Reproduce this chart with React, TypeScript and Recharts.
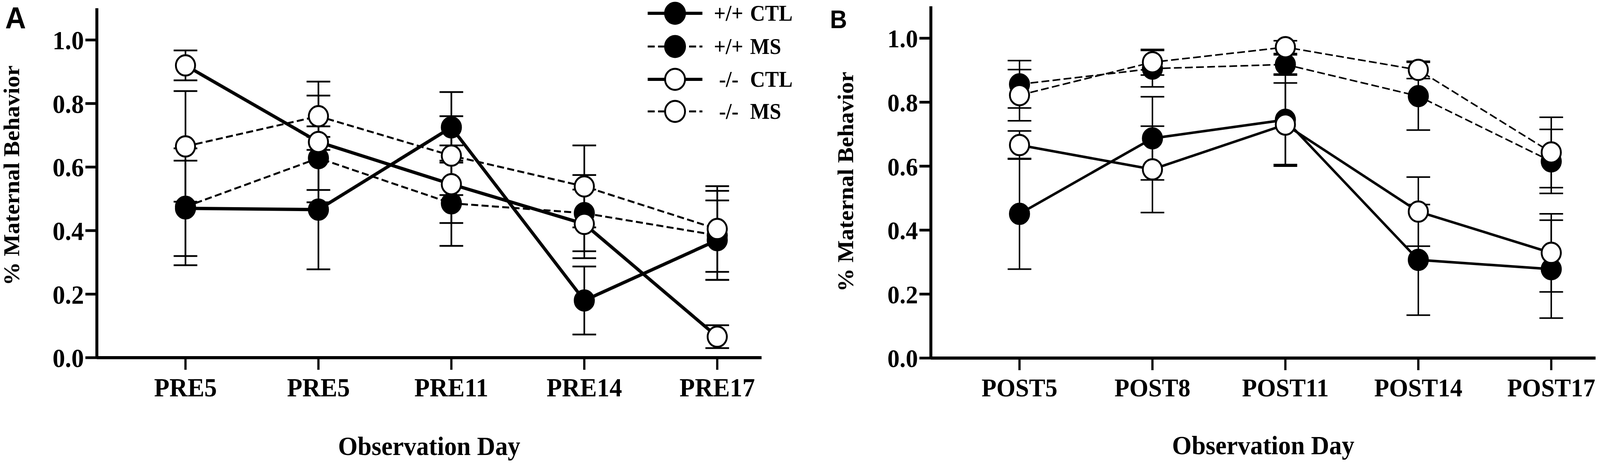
import React from 'react';
import { LineChart, Line, XAxis, YAxis, ErrorBar, Label } from 'recharts';

// x categories for the two panels
const daysA = ['PRE5', 'PRE5', 'PRE11', 'PRE14', 'PRE17'];
const daysB = ['POST5', 'POST8', 'POST11', 'POST14', 'POST17'];
const yTicks = [0, 0.2, 0.4, 0.6, 0.8, 1.0];
const xTicks = [1, 2, 3, 4, 5];

// panel A (pre)
const wtCtlA = [0.47, 0.466, 0.725, 0.18, 0.37];
const wtCtlAErr = [0.15, 0.188, 0.111, 0.107, 0.125];
const wtMsA = [0.475, 0.628, 0.486, 0.455, 0.385];
const wtMsAErr = [0.184, 0.1, 0.134, 0.12, 0.14];
const koCtlA = [0.92, 0.679, 0.546, 0.421, 0.066];
const koCtlAErr = [0.047, 0.19, 0.122, 0.108, 0.036];
const koMsA = [0.665, 0.76, 0.636, 0.539, 0.405];
const koMsAErr = [0.174, 0.065, 0.124, 0.129, 0.135];

// panel B (post)
const wtCtlB = [0.451, 0.687, 0.745, 0.307, 0.278];
const wtCtlBErr = [0.173, 0.13, 0.14, 0.173, 0.153];
const wtMsB = [0.856, 0.905, 0.918, 0.819, 0.615];
const wtMsBErr = [0.074, 0.057, 0.03, 0.106, 0.1];
const koCtlB = [0.666, 0.59, 0.73, 0.458, 0.329];
const koCtlBErr = [0.044, 0.135, 0.13, 0.108, 0.122];
const koMsB = [0.822, 0.925, 0.972, 0.901, 0.643];
const koMsBErr = [0.08, 0.04, 0.02, 0.027, 0.11];

const series = [
  { key: 'wtCtl', geno: '+/+', cond: 'CTL', filled: true, dashed: false },
  { key: 'wtMs', geno: '+/+', cond: 'MS', filled: true, dashed: true },
  { key: 'koCtl', geno: '-/-', cond: 'CTL', filled: false, dashed: false },
  { key: 'koMs', geno: '-/-', cond: 'MS', filled: false, dashed: true },
];

const serif = 'Liberation Serif, Times New Roman, serif';

function buildRows(vals: number[][], errs: number[][]) {
  return xTicks.map((x, i) => {
    const row: any = { x };
    series.forEach((s, j) => {
      row[s.key] = vals[j][i];
      row[s.key + 'Err'] = errs[j][i];
    });
    return row;
  });
}

const rowsA = buildRows([wtCtlA, wtMsA, koCtlA, koMsA], [wtCtlAErr, wtMsAErr, koCtlAErr, koMsAErr]);
const rowsB = buildRows([wtCtlB, wtMsB, koCtlB, koMsB], [wtCtlBErr, wtMsBErr, koCtlBErr, koMsBErr]);

type PanelProps = {
  left: number;
  width: number;
  top: number;
  axisHeight: number;
  rows: any[];
  days: string[];
  tickFont: number;
  yLabelY: number;
  xLabelBase: number;
  solidW: number;
  dashW: number;
  dash: string;
  errW: number;
};

function Panel(p: PanelProps) {
  const tick = { fill: '#000', fontSize: p.tickFont, fontWeight: 'bold', fontFamily: serif };
  return (
    <div style={{ position: 'absolute', left: p.left, top: 0 }}>
      <LineChart
        width={p.width}
        height={1187}
        data={p.rows}
        margin={{ top: p.top, right: p.width - 262 - 1798, bottom: 0, left: 0 }}
      >
        <XAxis
          dataKey="x"
          type="number"
          domain={[1 / 3, 16 / 3]}
          allowDataOverflow
          ticks={xTicks}
          interval={0}
          tickFormatter={(v: number) => p.days[v - 1]}
          height={p.axisHeight}
          tickSize={31}
          tickMargin={20}
          tick={tick}
          axisLine={{ stroke: '#000', strokeWidth: 8 }}
          tickLine={{ stroke: '#000', strokeWidth: 6 }}
        >
          <Label
            content={(lp: any) => {
              const vb = lp.viewBox;
              return (
                <text
                  x={vb.x + vb.width / 2}
                  y={p.xLabelBase}
                  textAnchor="middle"
                  fontFamily={serif}
                  fontWeight="bold"
                  fontSize={68}
                  fill="#000"
                >
                  Observation Day
                </text>
              );
            }}
          />
        </XAxis>
        <YAxis
          width={262}
          domain={[0, 1.1]}
          allowDataOverflow
          ticks={yTicks}
          interval={0}
          tickFormatter={(v: number) => v.toFixed(1)}
          tickSize={31}
          tickMargin={4}
          tick={tick}
          axisLine={{ stroke: '#000', strokeWidth: 8 }}
          tickLine={{ stroke: '#000', strokeWidth: 7 }}
        >
          <Label
            content={(lp: any) => {
              const vb = lp.viewBox;
              const x = vb.x + 32;
              return (
                <text
                  x={x}
                  y={p.yLabelY}
                  transform={`rotate(-90 ${x} ${p.yLabelY})`}
                  textAnchor="middle"
                  dominantBaseline="central"
                  fontFamily={serif}
                  fontWeight="bold"
                  fontSize={60}
                  fill="#000"
                >
                  % Maternal Behavior
                </text>
              );
            }}
          />
        </YAxis>
        {series.map((s) => (
          <Line
            key={s.key}
            dataKey={s.key}
            type="linear"
            stroke="#000"
            strokeWidth={s.dashed ? p.dashW : p.solidW}
            strokeDasharray={s.dashed ? p.dash : undefined}
            dot={{
              r: 26,
              fill: s.filled ? '#000' : '#fff',
              stroke: '#000',
              strokeWidth: 5,
              strokeDasharray: 'none',
            }}
            activeDot={false}
            isAnimationActive={false}
          >
            <ErrorBar
              dataKey={s.key + 'Err'}
              direction="y"
              width={32}
              stroke="#000"
              strokeWidth={p.errW}
              isAnimationActive={false}
            />
          </Line>
        ))}
      </LineChart>
    </div>
  );
}

function Overlay() {
  const rowY = [34, 119, 203, 285];
  return (
    <svg
      width={4328}
      height={1187}
      style={{ position: 'absolute', left: 0, top: 0, pointerEvents: 'none' }}
    >
      <text x={14} y={73} fontFamily="Liberation Sans, Arial, sans-serif" fontWeight="bold" fontSize={78} fill="#000">
        A
      </text>
      <text x={2245} y={72} fontFamily="Liberation Sans, Arial, sans-serif" fontWeight="bold" fontSize={64} fill="#000">
        B
      </text>
      {series.map((s, i) => {
        const y = rowY[i];
        return (
          <g key={s.key}>
            <line
              x1={1752}
              x2={1900}
              y1={y}
              y2={y}
              stroke="#000"
              strokeWidth={s.dashed ? 5 : 8}
              strokeDasharray={s.dashed ? '19 9' : undefined}
            />
            <circle cx={1826} cy={y} r={27} fill={s.filled ? '#000' : '#fff'} stroke="#000" strokeWidth={5} />
            <text
              x={s.geno === '+/+' ? 1931 : 1945}
              y={y + 19}
              fontFamily={serif}
              fontWeight="bold"
              fontSize={56}
              fill="#000"
            >
              {s.geno}
            </text>
            <text x={2029} y={y + 19} fontFamily={serif} fontWeight="bold" fontSize={56} fill="#000">
              {s.cond}
            </text>
          </g>
        );
      })}
    </svg>
  );
}

export default function App() {
  // the figure is laid out on a 4328x1187 canvas; fit it to the actual viewport
  const hasWin = typeof window !== 'undefined';
  const sx = hasWin && window.innerWidth ? Math.min(1, window.innerWidth / 4328) : 1;
  const sy = hasWin && window.innerHeight ? Math.min(1, window.innerHeight / 1187) : 1;
  return (
    <div
      style={{
        position: 'absolute',
        left: 0,
        top: 0,
        width: 4328,
        height: 1187,
        background: '#fff',
        transform: `scale(${sx}, ${sy})`,
        transformOrigin: '0 0',
      }}
    >
      <Panel
        left={0}
        width={2150}
        top={21}
        axisHeight={272}
        rows={rowsA}
        days={daysA}
        tickFont={68}
        yLabelY={449}
        xLabelBase={1164}
        solidW={8.5}
        dashW={5}
        dash="19 9"
        errW={4.5}
      />
      <Panel
        left={2256}
        width={2072}
        top={16}
        axisHeight={271}
        rows={rowsB}
        days={daysB}
        tickFont={66}
        yLabelY={465}
        xLabelBase={1162}
        solidW={6.5}
        dashW={4}
        dash="21 9"
        errW={4}
      />
      <Overlay />
    </div>
  );
}
